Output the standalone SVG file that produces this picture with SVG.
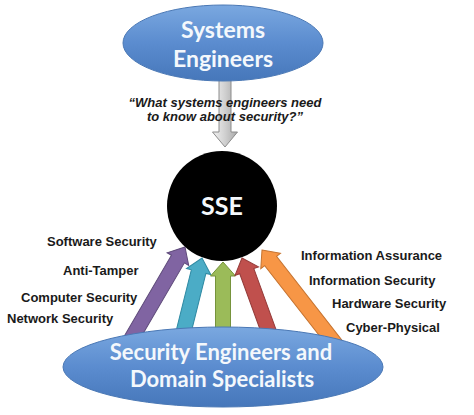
<svg xmlns="http://www.w3.org/2000/svg" width="474" height="415" viewBox="0 0 474 415">
<defs>
<linearGradient id="blue" x1="0" y1="0" x2="0" y2="1">
<stop offset="0" stop-color="#7AA8E0"/>
<stop offset="0.5" stop-color="#5B8CCF"/>
<stop offset="1" stop-color="#4677BA"/>
</linearGradient>
<linearGradient id="gray" x1="0" y1="0" x2="1" y2="0">
<stop offset="0" stop-color="#F2F2F2"/>
<stop offset="0.5" stop-color="#D0D0D0"/>
<stop offset="1" stop-color="#A8A8A8"/>
</linearGradient>
<path id="arr" d="M0,0 L12.5,14 L7.5,14 L7.5,130 L-7.5,130 L-7.5,14 L-12.5,14 Z"/>
</defs>
<style>
.ell{fill:url(#blue);stroke:#4A78B5;stroke-width:1}
.big{font-family:Lato,"Open Sans",sans-serif;font-weight:bold;fill:#F4F8FC;text-anchor:middle}
.lbl{font-family:"Liberation Sans",Arial,sans-serif;font-weight:bold;font-size:13px;fill:#1A1A1A}
.q{font-family:"Liberation Sans",Arial,sans-serif;font-weight:bold;font-style:italic;font-size:13px;fill:#1A1A1A;text-anchor:middle}
.a{stroke-width:1;stroke-linejoin:miter}
</style>
<rect width="474" height="415" fill="#FFFFFF"/>

<g id="connectors">
<path id="gray-arrow" d="M219,80 L231,80 L231,132 L237.5,132 L225,147 L212.5,132 L219,132 Z" fill="url(#gray)" stroke="#8C8C8C" stroke-width="1"/>
<use href="#arr" transform="translate(185,247) rotate(30.3)" fill="#8064A2" stroke="#5E4A7A" class="a"/>
<use href="#arr" transform="translate(202,258) rotate(14)" fill="#4BACC6" stroke="#2F8AA3" class="a"/>
<use href="#arr" transform="translate(223,262)" fill="#9BBB59" stroke="#76933C" class="a"/>
<use href="#arr" transform="translate(242,258) rotate(-20)" fill="#C0504D" stroke="#943B39" class="a"/>
<use href="#arr" transform="translate(262,250) rotate(-38)" fill="#F79646" stroke="#C6732F" class="a"/>
</g>

<g id="systems-engineers">
<ellipse class="ell" cx="223" cy="43" rx="100" ry="38"/>
<text class="big" x="223" y="38" font-size="23">Systems</text>
<text class="big" x="223" y="67" font-size="23">Engineers</text>
</g>

<g id="question">
<text class="q" x="225" y="107">“What systems engineers need</text>
<text class="q" x="225" y="121">to know about security?”</text>
</g>

<g id="sse">
<circle cx="222" cy="206" r="55" fill="#000000"/>
<text class="big" x="222" y="215" font-size="25" fill="#FFFFFF">SSE</text>
</g>

<g id="security-engineers">
<ellipse class="ell" cx="223" cy="367" rx="160" ry="40"/>
<text class="big" x="221" y="360" font-size="22">Security Engineers and</text>
<text class="big" x="222" y="387" font-size="22">Domain Specialists</text>
</g>

<g id="labels">
<text class="lbl" x="47" y="246">Software Security</text>
<text class="lbl" x="63" y="275">Anti-Tamper</text>
<text class="lbl" x="21" y="302">Computer Security</text>
<text class="lbl" x="7" y="323">Network Security</text>
<text class="lbl" x="301" y="260">Information Assurance</text>
<text class="lbl" x="309" y="285">Information Security</text>
<text class="lbl" x="332" y="308">Hardware Security</text>
<text class="lbl" x="346" y="332">Cyber-Physical</text>
</g>
</svg>
